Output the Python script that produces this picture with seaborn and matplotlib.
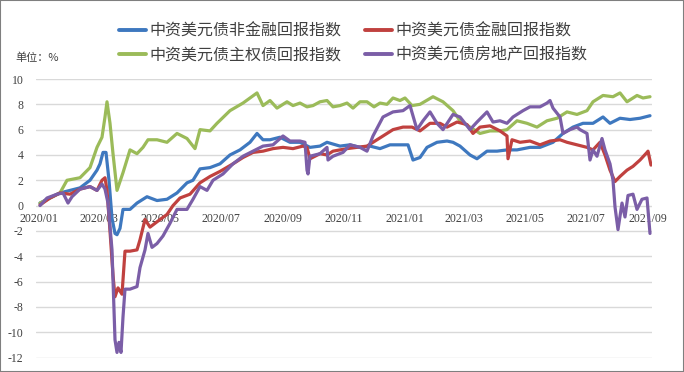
import matplotlib
matplotlib.use("Agg")
import matplotlib.pyplot as plt
import matplotlib.dates as mdates
from matplotlib.patches import Rectangle
import pandas as pd
import seaborn as sns

# ---------------- data ----------------
series_names = ["中资美元债非金融回报指数", "中资美元债主权债回报指数",
                "中资美元债金融回报指数", "中资美元债房地产回报指数"]
series_colors = ["#3E78BF", "#9BBB59", "#C0413F", "#7B5EA7"]

blue_dates = ["2020-01-02", "2020-01-22", "2020-02-01", "2020-02-11", "2020-02-21", "2020-02-28",
              "2020-03-02", "2020-03-05", "2020-03-08", "2020-03-11", "2020-03-14", "2020-03-17",
              "2020-03-19", "2020-03-22", "2020-03-25", "2020-03-27", "2020-04-01", "2020-04-08",
              "2020-04-18", "2020-04-28", "2020-05-08", "2020-05-18", "2020-05-28", "2020-06-03",
              "2020-06-10", "2020-06-20", "2020-06-30", "2020-07-10", "2020-07-20", "2020-07-30",
              "2020-08-06", "2020-08-12", "2020-08-19", "2020-08-29", "2020-09-08", "2020-09-18",
              "2020-09-28", "2020-10-08", "2020-10-15", "2020-10-28", "2020-11-07", "2020-11-17",
              "2020-11-27", "2020-12-07", "2020-12-17", "2020-12-27", "2021-01-04", "2021-01-09",
              "2021-01-16", "2021-01-23", "2021-02-02", "2021-02-12", "2021-02-18", "2021-02-25",
              "2021-03-07", "2021-03-14", "2021-03-24", "2021-04-03", "2021-04-13", "2021-04-23",
              "2021-05-06", "2021-05-16", "2021-05-29", "2021-06-08", "2021-06-18", "2021-06-28",
              "2021-07-08", "2021-07-18", "2021-07-25", "2021-08-04", "2021-08-14", "2021-08-24",
              "2021-09-03"]
blue_vals = [0.2, 1.0, 1.2, 1.4, 2.0, 2.8,
             3.3, 4.2, 4.2, 2.0, -1.0, -2.2,
             -2.3, -1.8, -0.3, -0.3, -0.3, 0.2,
             0.7, 0.4, 0.5, 1.0, 1.8, 2.0,
             2.9, 3.0, 3.3, 4.0, 4.4, 5.0,
             5.7, 5.2, 5.2, 5.4, 5.0, 5.0,
             4.6, 4.7, 5.0, 4.7, 4.8, 4.6,
             4.7, 4.5, 4.8, 4.8, 4.8, 3.6,
             3.8, 4.6, 5.0, 5.1, 5.0, 4.7,
             4.0, 3.7, 4.3, 4.3, 4.4, 4.4,
             4.6, 4.6, 5.0, 5.7, 6.2, 6.5,
             6.5, 7.0, 6.5, 6.9, 6.8, 6.9,
             7.1]

green_dates = ["2020-01-02", "2020-01-22", "2020-01-29", "2020-02-11", "2020-02-21", "2020-02-28",
               "2020-03-04", "2020-03-07", "2020-03-09", "2020-03-12", "2020-03-15", "2020-03-19",
               "2020-03-25", "2020-04-01", "2020-04-08", "2020-04-14", "2020-04-19", "2020-04-28",
               "2020-05-08", "2020-05-18", "2020-05-28", "2020-06-05", "2020-06-10", "2020-06-20",
               "2020-06-27", "2020-07-10", "2020-07-23", "2020-08-06", "2020-08-12", "2020-08-19",
               "2020-08-26", "2020-09-05", "2020-09-11", "2020-09-18", "2020-09-25", "2020-10-01",
               "2020-10-08", "2020-10-15", "2020-10-21", "2020-10-28", "2020-11-04", "2020-11-10",
               "2020-11-17", "2020-11-24", "2020-12-01", "2020-12-07", "2020-12-14", "2020-12-20",
               "2020-12-27", "2021-01-01", "2021-01-08", "2021-01-16", "2021-01-29", "2021-02-08",
               "2021-02-18", "2021-02-25", "2021-03-07", "2021-03-17", "2021-03-27", "2021-04-06",
               "2021-04-13", "2021-04-23", "2021-05-03", "2021-05-13", "2021-05-23", "2021-06-02",
               "2021-06-12", "2021-06-22", "2021-07-02", "2021-07-08", "2021-07-18", "2021-07-28",
               "2021-08-04", "2021-08-11", "2021-08-21", "2021-08-27", "2021-09-03"]
green_vals = [0.2, 1.0, 2.0, 2.2, 3.0, 4.6,
              5.4, 7.0, 8.2, 6.5, 4.1, 1.2,
              2.6, 4.4, 4.1, 4.6, 5.2, 5.2,
              5.0, 5.7, 5.3, 4.5, 6.0, 5.9,
              6.5, 7.5, 8.1, 8.9, 7.9, 8.3,
              7.7, 8.2, 7.9, 8.1, 7.8, 7.9,
              8.2, 8.3, 7.8, 7.9, 8.1, 7.7,
              8.2, 8.2, 7.8, 8.1, 8.0, 8.5,
              8.3, 8.5, 7.9, 8.0, 8.6, 8.2,
              7.5, 6.7, 6.2, 5.7, 5.9, 5.9,
              6.0, 6.7, 6.5, 6.2, 6.7, 6.9,
              7.4, 7.2, 7.5, 8.2, 8.7, 8.6,
              8.9, 8.2, 8.7, 8.5, 8.6]

red_dates = ["2020-01-02", "2020-01-12", "2020-01-22", "2020-02-01", "2020-02-11", "2020-02-21",
             "2020-02-28", "2020-03-04", "2020-03-07", "2020-03-09", "2020-03-12", "2020-03-15",
             "2020-03-17", "2020-03-20", "2020-03-24", "2020-03-27", "2020-04-01", "2020-04-08",
             "2020-04-11", "2020-04-16", "2020-04-21", "2020-05-01", "2020-05-08", "2020-05-14",
             "2020-05-21", "2020-05-31", "2020-06-10", "2020-06-20", "2020-06-30", "2020-07-13",
             "2020-07-23", "2020-08-02", "2020-08-12", "2020-08-22", "2020-09-01", "2020-09-11",
             "2020-09-21", "2020-09-25", "2020-09-28", "2020-10-08", "2020-10-15", "2020-10-21",
             "2020-11-04", "2020-11-14", "2020-11-24", "2020-11-30", "2020-12-10", "2020-12-20",
             "2020-12-30", "2021-01-08", "2021-01-16", "2021-01-26", "2021-02-05", "2021-02-12",
             "2021-02-22", "2021-03-04", "2021-03-10", "2021-03-17", "2021-03-27", "2021-04-06",
             "2021-04-13", "2021-04-14", "2021-04-18", "2021-04-26", "2021-05-06", "2021-05-16",
             "2021-05-26", "2021-06-05", "2021-06-12", "2021-06-22", "2021-07-02", "2021-07-08",
             "2021-07-15", "2021-07-20", "2021-07-25", "2021-07-30", "2021-08-04", "2021-08-11",
             "2021-08-17", "2021-08-24", "2021-08-31", "2021-09-01", "2021-09-04"]
red_vals = [0.05, 0.6, 1.0, 0.9, 1.3, 1.5,
            1.2, 2.0, 2.2, 1.2, -2.0, -5.5,
            -7.2, -6.5, -7.0, -3.6, -3.6, -3.5,
            -2.7, -1.1, -1.7, -1.1, -0.7, 0.0,
            0.6, 0.9, 1.8, 2.3, 2.7, 3.3,
            3.8, 4.2, 4.3, 4.5, 4.6, 4.5,
            4.7, 4.6, 3.7, 4.1, 4.0, 4.3,
            4.5, 4.6, 4.7, 5.0, 5.5, 6.0,
            6.2, 6.2, 5.9, 6.5, 6.5, 6.2,
            6.6, 6.4, 5.7, 6.2, 6.3, 5.9,
            5.5, 3.7, 5.2, 5.0, 5.1, 4.8,
            5.1, 5.2, 5.0, 4.8, 4.6, 4.4,
            5.0, 4.0, 2.8, 1.9, 2.3, 2.8,
            3.1, 3.6, 4.2, 4.3, 3.2]

purple_dates = ["2020-01-02", "2020-01-09", "2020-01-19", "2020-01-25", "2020-01-30", "2020-02-03",
                "2020-02-11", "2020-02-21", "2020-02-28", "2020-03-04", "2020-03-07", "2020-03-10",
                "2020-03-14", "2020-03-17", "2020-03-19", "2020-03-21", "2020-03-23", "2020-03-25",
                "2020-03-27", "2020-04-01", "2020-04-08", "2020-04-11", "2020-04-16", "2020-04-19",
                "2020-04-23", "2020-04-28", "2020-05-04", "2020-05-11", "2020-05-18", "2020-05-28",
                "2020-06-03", "2020-06-10", "2020-06-17", "2020-06-23", "2020-07-03", "2020-07-13",
                "2020-07-23", "2020-08-02", "2020-08-12", "2020-08-22", "2020-09-01", "2020-09-08",
                "2020-09-18", "2020-09-23", "2020-09-25", "2020-09-26", "2020-09-28", "2020-10-08",
                "2020-10-15", "2020-10-16", "2020-10-21", "2020-10-31", "2020-11-07", "2020-11-17",
                "2020-11-24", "2020-11-30", "2020-12-10", "2020-12-20", "2020-12-30", "2021-01-06",
                "2021-01-13", "2021-01-19", "2021-01-26", "2021-02-02", "2021-02-08", "2021-02-18",
                "2021-02-25", "2021-03-07", "2021-03-14", "2021-03-24", "2021-03-30", "2021-04-06",
                "2021-04-13", "2021-04-19", "2021-04-29", "2021-05-06", "2021-05-16", "2021-05-23",
                "2021-05-26", "2021-05-29", "2021-06-05", "2021-06-08", "2021-06-15", "2021-06-22",
                "2021-06-25", "2021-07-02", "2021-07-05", "2021-07-08", "2021-07-12", "2021-07-17",
                "2021-07-20", "2021-07-25", "2021-07-28", "2021-07-30", "2021-08-02", "2021-08-06",
                "2021-08-09", "2021-08-12", "2021-08-17", "2021-08-21", "2021-08-26", "2021-08-31",
                "2021-09-03"]
purple_vals = [0.0, 0.6, 0.9, 1.0, 0.2, 0.7,
               1.3, 1.5, 1.2, 1.7, 1.3, 0.2,
               -3.5, -10.6, -11.6, -10.8, -11.6, -8.8,
               -6.6, -6.6, -6.4, -4.9, -3.5, -2.2,
               -3.3, -3.0, -2.4, -1.4, -0.3, -0.3,
               0.5, 1.5, 1.2, 2.0, 2.5, 3.3,
               3.9, 4.3, 4.7, 4.8, 5.5, 5.1,
               5.1, 5.0, 2.8, 2.5, 3.9, 4.1,
               4.6, 3.6, 3.9, 4.2, 4.8, 4.6,
               4.3, 5.5, 7.0, 7.4, 7.5, 7.9,
               6.0, 6.7, 7.4, 6.5, 6.0, 7.2,
               7.0, 6.0, 6.6, 7.4, 6.6, 6.7,
               6.5, 7.0, 7.5, 7.8, 7.8, 8.1,
               8.3, 7.7, 7.0, 5.7, 6.0, 6.2,
               6.0, 5.7, 3.6, 4.4, 3.9, 5.3,
               4.4, 3.3, 2.0, -0.1, -1.9, 0.2,
               -0.9, 0.8, 0.9, -0.3, 0.5, 0.6,
               -2.2]

x_ticks = ["2020-01-01", "2020-03-01", "2020-05-01", "2020-07-01", "2020-09-01", "2020-11-01",
           "2021-01-01", "2021-03-01", "2021-05-01", "2021-07-01", "2021-09-01"]
y_ticks = [-12, -10, -8, -6, -4, -2, 0, 2, 4, 6, 8, 10]
unit_label = "单位：%"

# ---------------- frame ----------------
frames = []
for name, d, v in zip(series_names,
                      [blue_dates, green_dates, red_dates, purple_dates],
                      [blue_vals, green_vals, red_vals, purple_vals]):
    frames.append(pd.DataFrame({"date": pd.to_datetime(d), "value": v, "series": name}))
df = pd.concat(frames, ignore_index=True)

sns.set_theme(style="white")
plt.rcParams["font.family"] = ["Noto Sans CJK SC", "DejaVu Sans"]
plt.rcParams["axes.unicode_minus"] = False

W, H = 684, 372
fig = plt.figure(figsize=(W / 100, H / 100), dpi=100)
fig.patch.set_facecolor("white")
ax = fig.add_axes([36 / W, 1 - 357.5 / H, (652 - 36) / W, (357.5 - 79) / H])

sns.lineplot(data=df, x="date", y="value", hue="series", hue_order=series_names,
             palette=series_colors, estimator=None, sort=True, linewidth=2.3, ax=ax)

handles, labels = ax.get_legend_handles_labels()
ax.get_legend().remove()
leg = fig.legend(handles, labels, ncol=2, loc="upper left",
                 bbox_to_anchor=(119 / W, 1 - 23 / H), frameon=False, fontsize=11.5,
                 handlelength=1.7, handletextpad=0.2, columnspacing=1.5,
                 labelspacing=0.4, borderpad=0, borderaxespad=0)
for t in leg.get_texts():
    t.set_color("#404040")
for h in leg.get_lines():
    h.set_linewidth(2.8)

ax.set_ylim(-12, 10)
ax.set_yticks(y_ticks)
ax.set_xlim(pd.Timestamp("2019-12-29"), pd.Timestamp("2021-09-05"))
ax.set_xticks(pd.to_datetime(x_ticks))
ax.xaxis.set_major_formatter(mdates.DateFormatter("%Y/%m"))
ax.set_xlabel("")
ax.set_ylabel("")
ax.set_axisbelow(True)
ax.grid(axis="y", color="#d9d9d9", linewidth=1)
ax.grid(axis="x", visible=False)
for s in ax.spines.values():
    s.set_visible(False)
ax.spines["bottom"].set_position(("data", 0))
ax.tick_params(axis="x", length=0, pad=5)
ax.tick_params(axis="y", length=0, pad=9)
for lab in ax.get_xticklabels() + ax.get_yticklabels():
    lab.set_fontfamily("Liberation Serif")
    lab.set_fontsize(8.5)
    lab.set_color("#404040")

fig.text(15 / W, 1 - 58 / H, unit_label, fontsize=8, va="center", ha="left", color="#404040")
fig.patches.append(Rectangle((0, 0), 1, 1, transform=fig.transFigure, fill=False,
                             edgecolor="#7f7f7f", linewidth=1.5))

fig.savefig("out.png", dpi=100)
